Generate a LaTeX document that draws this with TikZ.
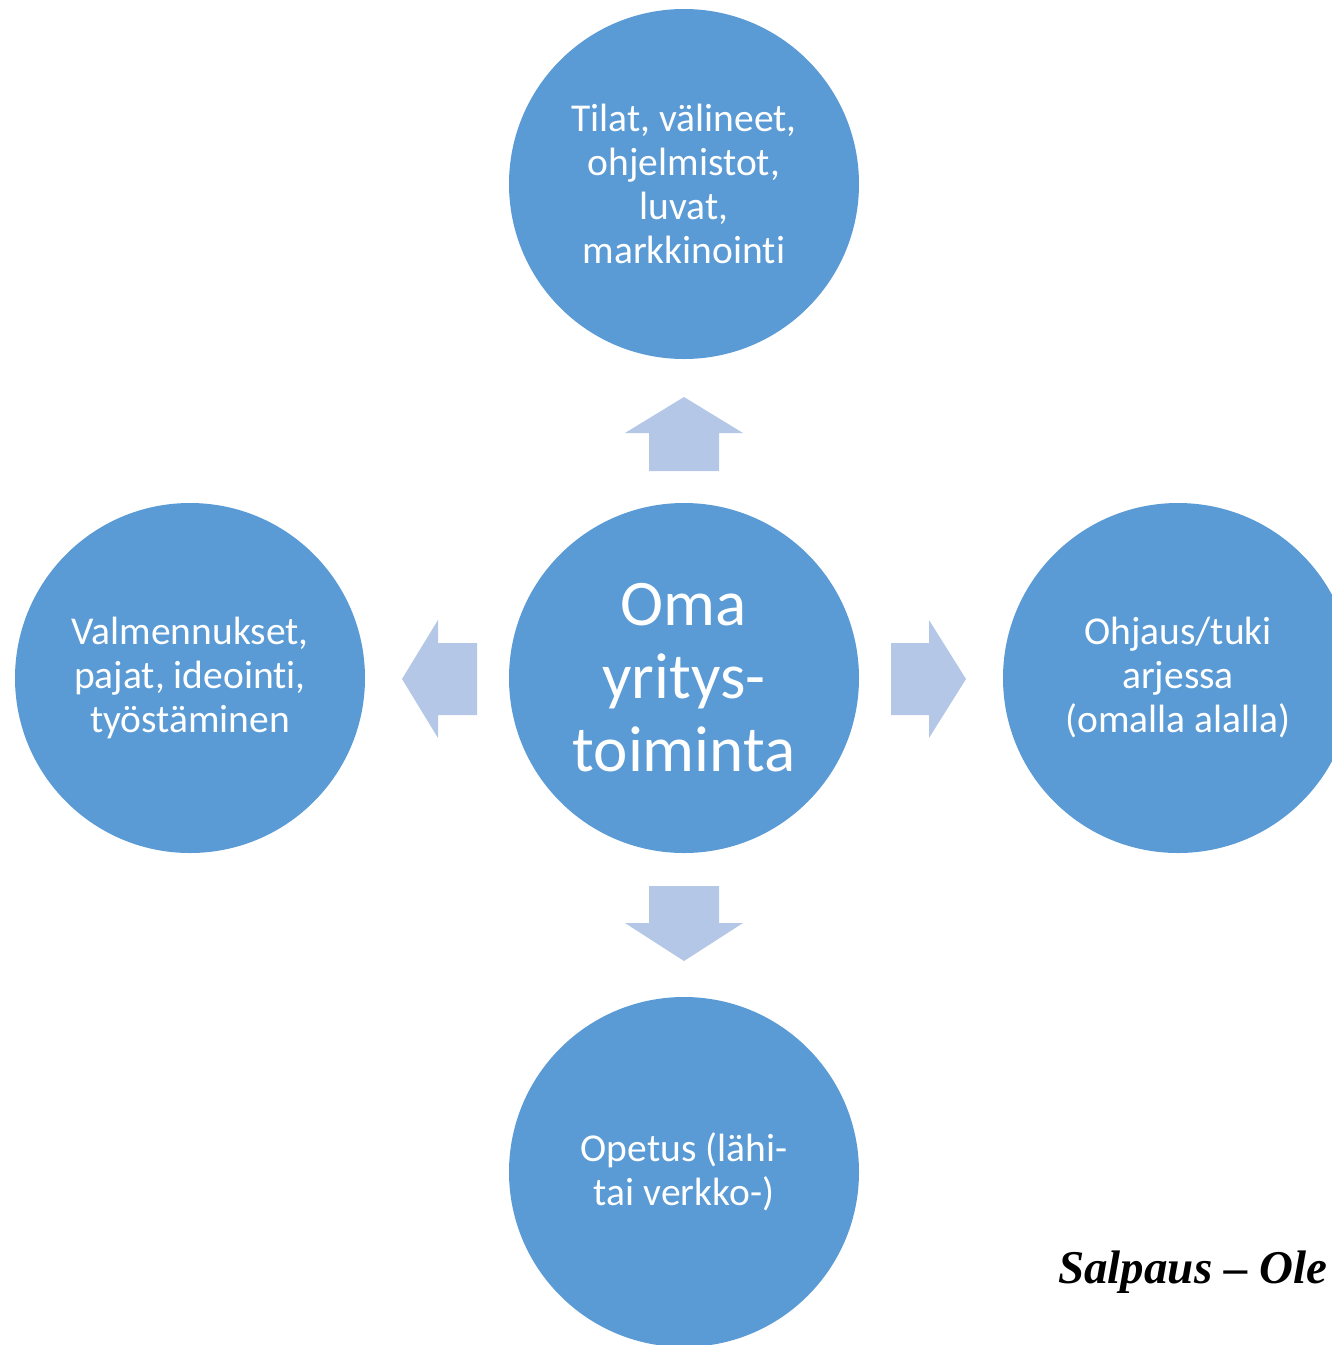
\documentclass[tikz,border=0pt]{standalone}
\usepackage{fontspec}
\setmainfont[RawFeature=-liga]{Carlito}
\newfontfamily\logofont{Liberation Serif}
\definecolor{circblue}{HTML}{5B9BD5}
\definecolor{arrblue}{HTML}{B4C7E7}
\begin{document}
\begin{tikzpicture}[x=1pt,y=-1pt,
  bubble/.style={circle,fill=circblue,draw=none,minimum size=350pt,inner sep=0pt,
    text=white,align=center,font=\fontsize{39.5}{44}\selectfont},
  bigbubble/.style={bubble,font=\fontsize{65}{73}\selectfont},
  blockarrow/.style={fill=arrblue,draw=none}]
\useasboundingbox (0,0) rectangle (1332,1345);
\node[bigbubble] (c) at (684,678) {Oma\\yritys-\\toiminta};
\node[bubble] (t) at (684,184) {Tilat, välineet,\\ohjelmistot,\\luvat,\\markkinointi};
\node[bubble] (l) at (190,678) {Valmennukset,\\pajat, ideointi,\\työstäminen};
\node[bubble] (r) at (1178,678) {Ohjaus/tuki\\arjessa\\(omalla alalla)};
\node[bubble] (b) at (684,1172) {Opetus (lähi-\\tai verkko-)};
% up arrow
\fill[blockarrow] (649,471) -- (649,433) -- (625,433) -- (684,397) -- (743,433) -- (719,433) -- (719,471) -- cycle;
% down arrow
\fill[blockarrow] (649,886) -- (649,923) -- (625,923) -- (684,961) -- (743,923) -- (719,923) -- (719,886) -- cycle;
% left arrow
\fill[blockarrow] (477,643) -- (438,643) -- (438,620) -- (402,679) -- (438,738) -- (438,715) -- (477,715) -- cycle;
% right arrow
\fill[blockarrow] (891,643) -- (929,643) -- (929,620) -- (966,679) -- (929,738) -- (929,715) -- (891,715) -- cycle;
\node[anchor=base west,inner sep=0pt,font=\logofont\bfseries\itshape\fontsize{47}{56}\selectfont] (logo) at (1058,1283) {Salpaus – Ole};
\end{tikzpicture}
\end{document}
